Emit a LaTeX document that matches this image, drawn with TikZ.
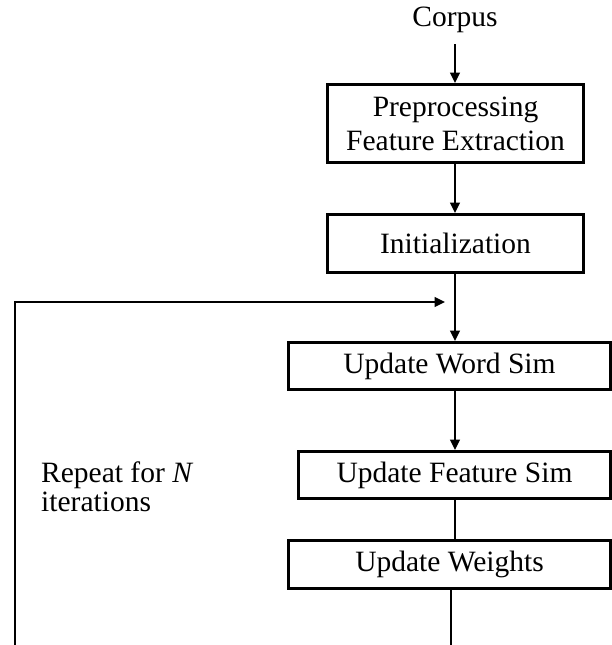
\documentclass[tikz,border=0pt]{standalone}
\usepackage{fontspec}
\setmainfont{Liberation Serif}
\usetikzlibrary{arrows.meta}

\tikzset{
    stage/.style={draw,line width=3pt,inner sep=0pt,align=center,
        font=\fontsize{29.5}{34}\selectfont},
    flow/.style={line width=1.5pt,-{Triangle[length=10.5pt,width=10pt]}},
    plainline/.style={line width=1.5pt}
}

\begin{document}
\begin{tikzpicture}[x=1pt,y=-1pt]
    \useasboundingbox (0,0) rectangle (612,645);

    % Pipeline %
    \node[font=\fontsize{29.5}{34}\selectfont,inner sep=0pt] (corpus) at (455,20) {Corpus};
    \node[stage,minimum width=256pt,minimum height=78pt] (prep) at (455.5,123.5) {Preprocessing\\Feature Extraction};
    \node[stage,minimum width=256pt,minimum height=58pt] (init) at (455.5,243.5) {Initialization};

    % Loop body %
    \node[stage,minimum width=322pt,minimum height=47pt] (wordsim) at (449.5,366) {Update Word Sim};
    \node[stage,minimum width=312pt,minimum height=47pt] (featsim) at (454.5,475) {Update Feature Sim};
    \node[stage,minimum width=322pt,minimum height=48pt] (weights) at (449.5,564.5) {Update Weights};

    \node[font=\fontsize{29.5}{29}\selectfont,align=left,anchor=west,inner sep=0pt] (repeat) at (41,487)
        {Repeat for \textit{N}\\iterations};

    \coordinate (corpusend) at (455,44);
    \coordinate (loopbot) at (15,645);
    \coordinate (looptip) at (445,302);
    \coordinate (outbot) at (451,645);

    \draw[flow] (corpusend) -- (prep.north -| corpusend);
    \draw[flow] (prep.south -| corpusend) -- (init.north -| corpusend);
    \draw[flow] (init.south -| corpusend) -- (wordsim.north -| corpusend);
    \draw[flow] (wordsim.south -| corpusend) -- (featsim.north -| corpusend);
    \draw[plainline] (featsim.south -| corpusend) -- (weights.north -| corpusend);
    \draw[plainline] (weights.south -| outbot) -- (outbot);

    % Feedback %
    \draw[flow] (loopbot) |- (looptip);
\end{tikzpicture}
\end{document}
